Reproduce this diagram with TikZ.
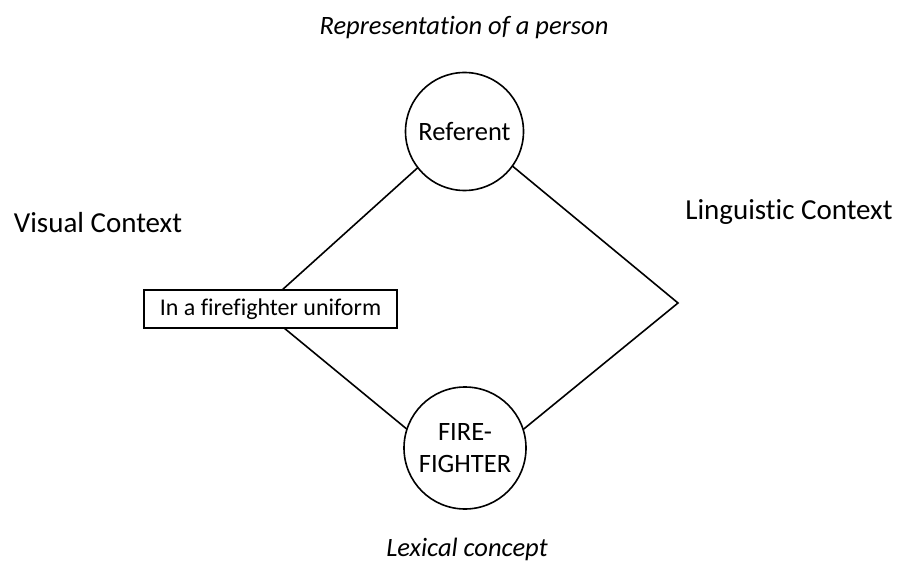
\documentclass[tikz,border=0pt]{standalone}
\usepackage{fontspec}
\setmainfont{Carlito}[Ligatures=NoCommon]
\usetikzlibrary{backgrounds}
\begin{document}
\begin{tikzpicture}[x=1pt,y=-1pt,line width=1.6pt,
    roundnode/.style={circle,draw,fill=white,inner sep=0pt,align=center,
      font=\fontsize{26.5}{32}\selectfont},
    boxnode/.style={rectangle,draw,fill=white,minimum width=253pt,
      minimum height=38pt,font=\fontsize{24}{29}\selectfont},
    caption/.style={font=\fontsize{26.5}{32}\selectfont\itshape},
    context/.style={font=\fontsize{29}{35}\selectfont},
    link/.style={draw,line width=1.6pt}]
  \useasboundingbox (0,0) rectangle (899,572);
  \draw
    (464,28) node[caption] (person){Representation of a person}
    (98,223) node[context] (visual){Visual Context}
    (789,212) node[context] (linguistic){Linguistic Context}
    (467,549) node[caption] (lexical){Lexical concept};
  \node[roundnode,minimum size=118pt] (referent) at (464.5,131.5) {Referent};
  \node[boxnode] (uniform) at (270.5,309) {In a firefighter uniform};
  \node[roundnode,minimum size=122pt] (firefighter) at (465,448) {FIRE-\\FIGHTER};
  \begin{scope}[on background layer]
    \coordinate (top) at (464,126);
    \coordinate (right) at (678,303);
    \coordinate (bottom) at (465,477);
    \coordinate (left) at (261,309);
    \path[link] (top) -- (right) -- (bottom) -- (left) -- cycle;
  \end{scope}
\end{tikzpicture}
\end{document}
